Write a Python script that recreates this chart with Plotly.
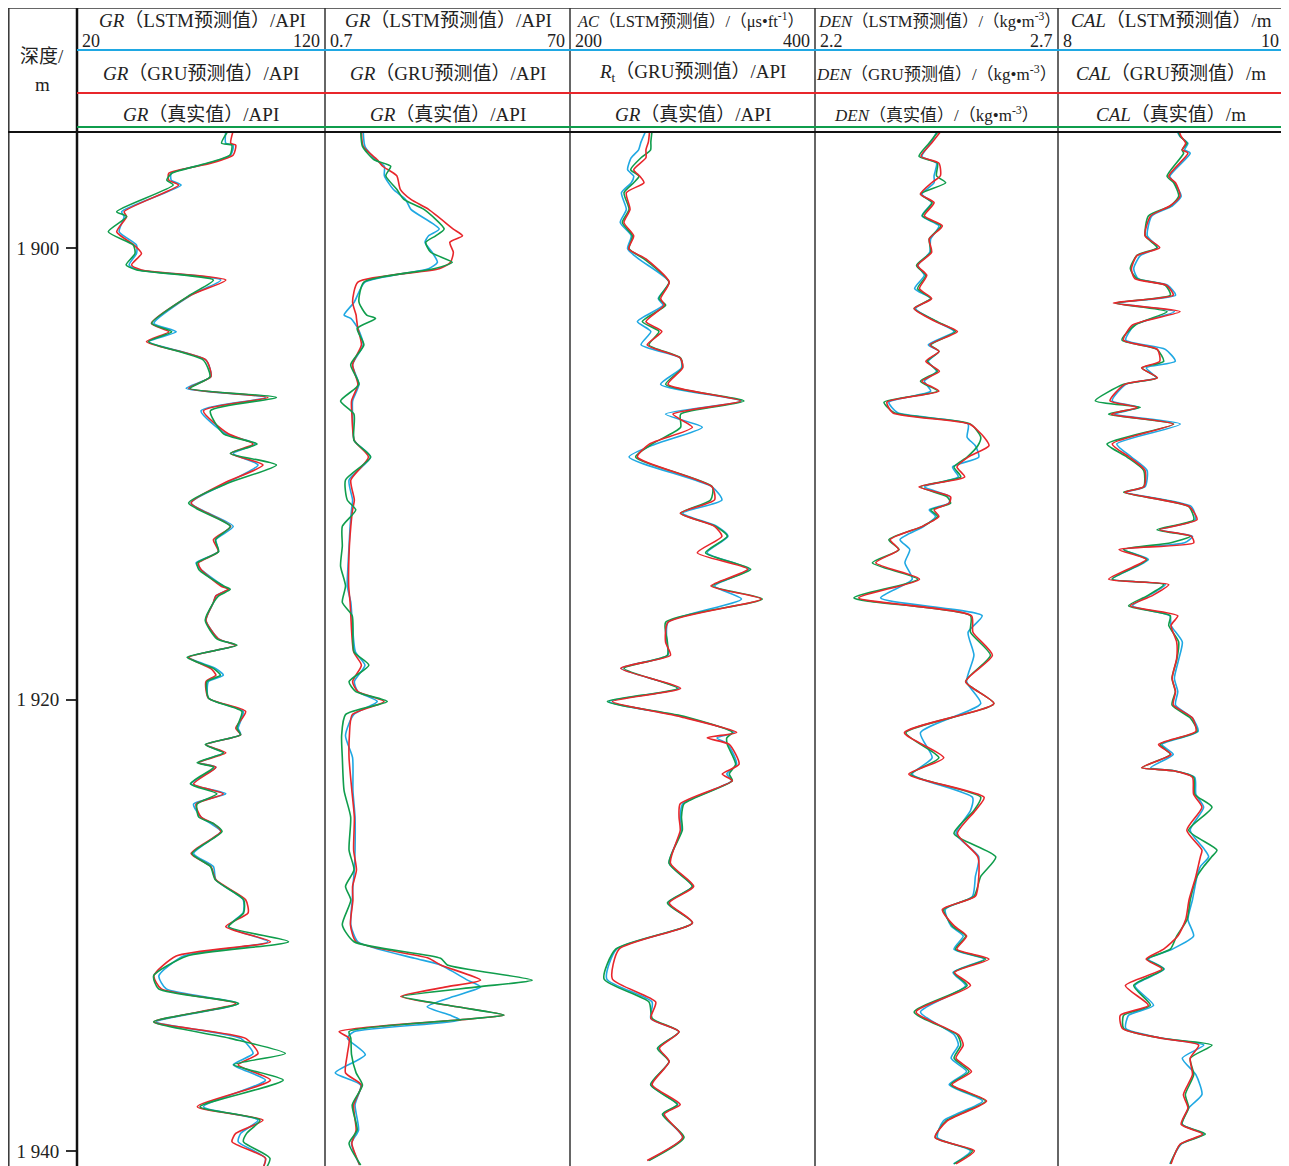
import plotly.graph_objects as go

# page is drawn with an 8px body margin: figure covers page pixels 8..1289 / 8..1166
OFF = 8
W, H = 1289 - OFF, 1166 - OFF
BLUE, RED, GREEN = '#1fa8e3', '#e8262b', '#0f9d4c'
FONT = 'Liberation Serif, Noto Sans CJK SC, serif'

# ---------------- Track 1 : GR (API) ----------------
t1_depth = [1894.8, 1895.36, 1895.44, 1895.88, 1896.25, 1896.69, 1896.99, 1897.21, 1898.39, 1898.61,
            1899.28, 1899.87, 1900.24, 1900.75, 1900.97, 1901.42, 1902.08, 1903.34, 1903.71, 1904.15,
            1904.96, 1905.7, 1906.22, 1906.62, 1907.21, 1908.23, 1908.68, 1909.1, 1909.61, 1910.43,
            1911.3, 1912.33, 1912.92, 1913.45, 1913.95, 1914.24, 1914.97, 1915.12, 1915.41, 1915.7,
            1916.49, 1917.31, 1917.6, 1918.13, 1918.63, 1918.92, 1919.21, 1919.94, 1920.53, 1921.27,
            1921.56, 1922.0, 1922.36, 1922.8, 1923.0, 1923.74, 1924.18, 1924.63, 1925.21, 1925.5,
            1925.85, 1926.82, 1927.4, 1927.99, 1928.87, 1929.45, 1930.06, 1930.73, 1931.36, 1932.24,
            1932.82, 1933.47, 1934.28, 1935.01, 1935.68, 1936.18, 1936.86, 1938.04, 1938.63, 1939.22,
            1939.59, 1940.32, 1941.0]
t1_true = [81, 78.3, 82.4, 81.7, 72.3, 58.2, 56.2, 58.8, 36.0, 40.0,
           32.6, 42.7, 43.4, 39.8, 44.1, 75.0, 65.6, 50.1, 58.2, 48.8,
           70.9, 73.6, 65.6, 100.4, 73.8, 79.1, 92.6, 81.8, 100.4, 80.5,
           65.0, 81.8, 75.8, 77.1, 68.4, 69.1, 79.1, 81.8, 77.1, 75.1,
           71.7, 76.4, 84.5, 64.4, 75.1, 77.8, 72.4, 73.1, 86.5, 84.5,
           85.9, 71.7, 79.1, 68.4, 75.1, 65.7, 76.4, 68.4, 69.1, 75.1,
           78.5, 66.4, 73.8, 75.8, 87.2, 87.2, 81.2, 105.3, 64.4, 50.9,
           52.9, 85.2, 50.9, 81.8, 104.0, 83.2, 103.2, 69.6, 93.8, 88.4,
           87.1, 97.8, 95]
t1_gru = [83, 82, 84, 83, 74, 57, 57, 61, 39, 40,
          36, 43, 46, 42, 46, 80, 66, 50, 57, 48,
          72, 74, 65, 97, 71, 81, 91, 82, 95, 79,
          66, 82, 75, 77, 69, 70, 78, 81, 76, 75,
          72, 77, 84, 65, 74, 76, 72, 73, 88, 84,
          86, 72, 80, 69, 76, 67, 79, 68, 70, 75,
          78, 66, 74, 76, 88, 89, 80, 98, 60, 51,
          54, 84, 51, 88, 93, 85, 98, 68.5, 95, 84,
          82.5, 96, 94]
t1_lstm = [80, 80, 83, 82, 73, 58, 58, 62, 38, 39,
           37, 44, 44, 41, 45, 78, 66, 51, 60, 49,
           72, 74, 64, 96, 70, 80, 92, 83, 93, 80,
           66, 83, 76, 77, 68, 70, 79, 81, 76, 75,
           72, 77, 84, 65, 76, 79, 73, 73, 87, 85,
           86, 72, 79, 69, 76, 66, 80, 67, 70, 74,
           78, 67, 75, 76, 87, 87, 81, 97, 63, 53,
           56, 85, 52, 86, 91, 83, 96, 71, 93, 86,
           85, 96, 94]

# ---------------- Track 2 : GR (API) ----------------
t2_depth = [1894.8, 1895.5, 1896.09, 1896.38, 1896.8, 1897.4, 1897.85, 1898.29, 1899.16, 1899.46,
            1899.75, 1900.19, 1900.63, 1900.92, 1901.51, 1902.39, 1902.97, 1903.12, 1903.56, 1904.29,
            1905.17, 1906.04, 1906.78, 1907.36, 1908.53, 1909.26, 1910.28, 1911.16, 1911.6, 1912.33,
            1913.2, 1914.09, 1914.97, 1915.7, 1916.29, 1917.89, 1918.48, 1919.21, 1919.65, 1920.09,
            1920.67, 1921.6, 1922.58, 1924.04, 1925.21, 1926.67, 1927.55, 1928.28, 1928.88, 1929.98,
            1930.73, 1931.46, 1931.76, 1932.43, 1932.73, 1933.16, 1933.61, 1933.98, 1934.2, 1934.71,
            1935.0, 1935.73, 1936.54, 1937.08, 1937.96, 1939.07, 1939.66, 1940.62]
t2_true = [10.8, 11.3, 14.6, 19.3, 17.9, 21, 23.0, 28.7, 34.4, 32,
           29.2, 30.6, 36.7, 31.5, 11.7, 10.3, 12.5, 15.0, 9.8, 11.7,
           7.96, 10.3, 5.1, 8.9, 8.9, 13.6, 6.5, 7.0, 9.4, 5.6,
           5.6, 5.1, 6.5, 5.6, 8.4, 8.9, 13.1, 7.5, 9.4, 18.3,
           6.5, 5.4, 5.6, 6.1, 7.96, 7.5, 8.9, 6.5, 8.0, 5.6,
           8.9, 33.4, 35.3, 59.3, 44, 22.6, 38, 51.3, 38, 7.5,
           8.0, 8.2, 9.5, 11.3, 8.4, 9.8, 7.5, 10.8]
t2_gru = [11.0, 11.5, 15.5, 17, 21, 22, 25, 30, 37, 39.6,
          36, 37, 36.2, 33, 10, 8.5, 9.5, 9.6, 10, 11,
          8.5, 10, 8.2, 8.3, 9, 13, 8, 9, 8.5, 8,
          7.6, 7.4, 7.4, 7.8, 8.0, 8.8, 11, 8.5, 10, 17.4,
          8.4, 7.6, 7.5, 8.3, 9, 8.8, 9.6, 8.5, 8.6, 7.9,
          9.5, 30, 33.4, 44.7, 35, 22.1, 38, 51.3, 38, 4.7,
          7.5, 7, 6.5, 11, 8.8, 9.5, 8.3, 10.5]
t2_lstm = [11.5, 12, 15, 17.5, 17.5, 20, 23.5, 25, 33, 30,
           29, 31, 32.5, 30, 12, 9, 6.1, 8, 10, 11.5,
           8.5, 10.3, 8.5, 8.5, 9, 13.6, 7.5, 8.5, 8.2, 7.8,
           7.5, 7.2, 7.0, 8.0, 8.3, 9.3, 12, 9, 10, 15.5,
           8.8, 6.5, 8.5, 8.6, 9.2, 9.2, 9, 8.6, 8.4, 8.0,
           10, 26, 33.4, 41, 44.7, 37, 29.6, 36, 39, 9,
           7.0, 12.1, 3.6, 10.8, 9.2, 10.2, 8.2, 10.5]

# ---------------- Track 3 : AC (us/ft) ----------------
t3_depth = [1894.8, 1895.3, 1895.65, 1896.0, 1896.53, 1896.82, 1897.11, 1897.55, 1898.29, 1898.87,
            1899.46, 1900.04, 1900.48, 1901.51, 1902.24, 1902.53, 1903.26, 1903.7, 1904.29, 1904.87,
            1905.31, 1906.04, 1906.78, 1907.36, 1907.94, 1908.68, 1909.26, 1910.58, 1911.16, 1911.75,
            1912.33, 1912.77, 1913.5, 1914.23, 1914.97, 1915.55, 1916.58, 1917.45, 1918.04, 1918.62,
            1919.5, 1920.09, 1920.76, 1921.46, 1921.7, 1921.99, 1922.87, 1923.3, 1923.6, 1924.62,
            1925.2, 1925.79, 1927.25, 1928.28, 1929.01, 1929.89, 1931.06, 1932.38, 1933.4, 1934.13,
            1934.72, 1935.45, 1936.04, 1937.06, 1937.94, 1938.37, 1939.4, 1940.42]
t3_true = [267, 266, 265.8, 258, 249.5, 256.3, 252, 244.1, 248.2, 242.7,
           250.9, 248.2, 260.4, 280.8, 272.6, 278.1, 259.0, 272.6, 264.5, 290.3,
           291.7, 278.1, 342.0, 290.3, 290.3, 267.2, 253.6, 316.2, 314.8, 290.3,
           318.9, 328.4, 310.7, 347.5, 316.2, 357.0, 278.1, 279.5, 279.5, 244.1,
           287.6, 230.5, 294.4, 332.5, 328, 328.4, 335.2, 330, 332.5, 293.1,
           291, 291.7, 280.8, 299.9, 279.5, 299.9, 237.3, 227.8, 264.5, 267.2,
           289.0, 271.3, 280.8, 265.8, 287.6, 275.4, 293.1, 264.5]
t3_gru = [265, 264, 262, 262, 252, 257, 260.4, 246, 249, 244,
          252, 248, 262, 281, 274, 277, 262, 275, 263, 290,
          292, 280, 339.3, 284, 299.9, 265, 255, 316, 318, 290,
          318, 324, 303.9, 345, 315, 356, 280, 278, 282, 241.4,
          290.3, 234.6, 290, 336, 312, 330, 338, 324.3, 332.5, 290,
          289, 290, 282, 301, 281, 300, 240, 234.6, 270, 266,
          289, 273, 281, 267, 290, 277, 292, 263]
t3_lstm = [262, 258, 256, 250, 247, 252, 250, 242, 246, 241,
           250, 247, 256, 281, 272, 276, 255, 266, 258, 290,
           291, 274, 340, 278, 308, 270, 248.2, 316, 324, 292,
           320, 329, 312, 346, 318, 340, 280, 279, 280, 242,
           289, 232, 292, 334, 320, 329, 336, 328, 332, 292,
           290, 291, 281, 300, 280, 300, 238, 230, 267, 266,
           289, 272, 281, 266, 288, 276, 292, 264]

# ---------------- Track 4 : DEN (kg/m3) ----------------
t4_depth = [1894.8, 1895.35, 1895.94, 1896.24, 1896.8, 1897.11, 1897.61, 1897.99, 1898.58, 1899.02,
            1899.6, 1900.19, 1900.77, 1901.21, 1901.8, 1902.24, 1902.68, 1903.26, 1903.7, 1904.29,
            1904.58, 1905.02, 1905.46, 1905.9, 1906.34, 1906.83, 1907.3, 1907.8, 1908.38, 1908.76,
            1909.26, 1909.7, 1910.14, 1910.58, 1911.02, 1911.31, 1911.6, 1911.89, 1912.33, 1912.92,
            1913.36, 1913.94, 1914.67, 1915.5, 1916.29, 1917.02, 1918.04, 1919.21, 1920.18, 1921.47,
            1922.58, 1923.31, 1924.33, 1924.92, 1925.94, 1926.97, 1927.84, 1928.72, 1929.3, 1930.04,
            1930.48, 1931.06, 1931.5, 1932.09, 1932.67, 1933.84, 1934.86, 1935.31, 1935.89, 1936.48,
            1937.06, 1937.79, 1938.67, 1939.4, 1939.99, 1940.57]
t4_true = [2.455, 2.435, 2.414, 2.452, 2.450, 2.469, 2.417, 2.441, 2.421, 2.459,
           2.435, 2.438, 2.409, 2.428, 2.411, 2.438, 2.404, 2.452, 2.489, 2.438,
           2.455, 2.431, 2.452, 2.417, 2.452, 2.342, 2.363, 2.520, 2.541, 2.535,
           2.513, 2.486, 2.500, 2.417, 2.472, 2.479, 2.438, 2.452, 2.421, 2.352,
           2.373, 2.318, 2.411, 2.280, 2.520, 2.520, 2.561, 2.510, 2.568, 2.387,
           2.455, 2.397, 2.541, 2.527, 2.486, 2.572, 2.541, 2.527, 2.465, 2.483,
           2.510, 2.489, 2.551, 2.486, 2.513, 2.404, 2.493, 2.500, 2.486, 2.517,
           2.479, 2.551, 2.469, 2.448, 2.524, 2.486]
t4_gru = [2.460, 2.440, 2.418, 2.455, 2.458, 2.440, 2.417, 2.445, 2.425, 2.462,
          2.435, 2.440, 2.411, 2.430, 2.415, 2.440, 2.404, 2.448, 2.493, 2.436,
          2.455, 2.428, 2.456, 2.420, 2.455, 2.348, 2.360, 2.518, 2.548, 2.558,
          2.515, 2.492, 2.508, 2.414, 2.479, 2.476, 2.445, 2.455, 2.421, 2.355,
          2.372, 2.325, 2.415, 2.290, 2.522, 2.525, 2.565, 2.510, 2.568, 2.384,
          2.465, 2.393, 2.548, 2.530, 2.493, 2.535, 2.537, 2.530, 2.462, 2.487,
          2.512, 2.492, 2.558, 2.487, 2.520, 2.408, 2.496, 2.505, 2.490, 2.522,
          2.482, 2.553, 2.472, 2.447, 2.528, 2.490]
t4_lstm = [2.452, 2.438, 2.420, 2.450, 2.445, 2.445, 2.420, 2.440, 2.420, 2.455,
           2.438, 2.436, 2.412, 2.425, 2.405, 2.438, 2.407, 2.450, 2.486, 2.433,
           2.455, 2.433, 2.450, 2.425, 2.438, 2.352, 2.370, 2.515, 2.513, 2.530,
           2.537, 2.483, 2.495, 2.425, 2.478, 2.475, 2.435, 2.448, 2.424, 2.375,
           2.395, 2.385, 2.400, 2.335, 2.544, 2.515, 2.527, 2.512, 2.541, 2.417,
           2.441, 2.400, 2.524, 2.520, 2.490, 2.537, 2.530, 2.524, 2.468, 2.480,
           2.505, 2.486, 2.548, 2.484, 2.510, 2.417, 2.487, 2.495, 2.480, 2.512,
           2.476, 2.545, 2.464, 2.452, 2.520, 2.485]

# ---------------- Track 5 : CAL (m) ----------------
t5_depth = [1894.8, 1895.06, 1895.36, 1895.65, 1895.8, 1896.82, 1897.11, 1897.7, 1898.14, 1898.58,
            1899.46, 1899.98, 1900.33, 1900.92, 1901.36, 1901.65, 1902.09, 1902.44, 1902.82, 1903.41,
            1904.08, 1904.49, 1905.02, 1905.31, 1905.75, 1906.04, 1906.77, 1907.06, 1907.36, 1907.8,
            1908.68, 1909.26, 1909.85, 1910.58, 1910.82, 1911.45, 1912.04, 1912.48, 1912.77, 1913.06,
            1913.36, 1913.8, 1914.67, 1914.91, 1915.41, 1915.85, 1916.29, 1916.72, 1917.45, 1918.19,
            1919.06, 1919.65, 1920.24, 1920.82, 1921.41, 1921.99, 1922.43, 1923.02, 1923.16, 1923.45,
            1924.2, 1924.77, 1925.79, 1926.67, 1926.97, 1927.4, 1927.84, 1928.87, 1929.75, 1930.48,
            1931.06, 1931.5, 1931.94, 1932.67, 1933.55, 1933.99, 1934.57, 1935.02, 1935.31, 1935.89,
            1936.62, 1937.5, 1938.08, 1938.82, 1939.25, 1939.7, 1940.57]
t5_true = [9.06, 9.083, 9.142, 9.097, 9.112, 8.965, 9.024, 9.068, 8.994, 8.80,
           8.773, 8.876, 8.699, 8.640, 8.699, 8.950, 8.994, 8.507, 8.965, 8.684,
           8.566, 8.876, 8.935, 8.743, 8.876, 8.581, 8.330, 8.729, 8.448, 9.024,
           8.434, 8.611, 8.758, 8.758, 8.581, 9.156, 9.201, 8.876, 9.171, 9.0,
           8.581, 8.788, 8.478, 8.935, 8.788, 8.625, 8.994, 8.980, 9.068, 9.053,
           9.009, 9.038, 9.009, 9.171, 9.230, 8.905, 8.994, 8.743, 9.024, 9.201,
           9.21, 9.363, 9.156, 9.407, 9.36, 9.289, 9.230, 9.171, 9.142, 9.05,
           8.994, 8.788, 8.935, 8.670, 8.817, 8.581, 8.581, 8.935, 9.363, 9.171,
           9.201, 9.127, 9.156, 9.097, 9.304, 9.083, 8.994]
t5_gru = [9.07, 9.09, 9.13, 9.10, 9.15, 8.98, 9.04, 9.08, 8.99, 8.82,
          8.77, 8.90, 8.70, 8.65, 8.68, 8.96, 9.02, 8.49, 9.08, 8.66,
          8.58, 8.88, 8.90, 8.74, 8.88, 8.59, 8.46, 8.70, 8.47, 9.02,
          8.48, 8.63, 8.77, 8.76, 8.59, 9.16, 9.23, 8.90, 9.18, 9.201,
          8.54, 8.78, 8.448, 8.98, 8.83, 8.64, 9.06, 9.00, 9.05, 9.05,
          9.01, 9.04, 9.02, 9.19, 9.22, 8.89, 9.00, 8.74, 9.02, 9.19,
          9.20, 9.274, 9.14, 9.274, 9.26, 9.24, 9.22, 9.16, 9.13, 9.06,
          8.935, 8.78, 8.92, 8.596, 8.80, 8.551, 8.57, 8.93, 9.245, 9.17,
          9.19, 9.11, 9.15, 9.09, 9.28, 9.08, 9.00]
t5_lstm = [9.05, 9.08, 9.15, 9.12, 9.17, 8.99, 9.03, 9.09, 9.01, 8.83,
           8.79, 8.88, 8.73, 8.67, 8.71, 8.97, 9.04, 8.52, 9.03, 8.68,
           8.60, 8.95, 9.038, 8.78, 8.87, 8.60, 8.48, 8.72, 8.50, 9.083,
           8.52, 8.65, 8.788, 8.77, 8.60, 9.18, 9.215, 8.90, 9.19, 9.12,
           8.58, 8.80, 8.48, 8.95, 8.80, 8.66, 8.99, 9.00, 9.10, 9.07,
           9.03, 9.06, 9.04, 9.19, 9.24, 8.92, 9.02, 8.82, 9.03, 9.21,
           9.22, 9.289, 9.17, 9.30, 9.333, 9.26, 9.23, 9.19, 9.15, 9.20,
           9.01, 8.80, 8.94, 8.68, 8.846, 8.625, 8.60, 8.94, 9.29, 9.10,
           9.22, 9.274, 9.16, 9.10, 9.29, 9.09, 8.99]

# ---------------- header texts ----------------
depth_ticks = [1900, 1920, 1940]
depth_tick_text = ['1 900', '1 920', '1 940']
row1_labels = ['<i>GR</i>（LSTM预测值）/API', '<i>GR</i>（LSTM预测值）/API',
               '<i>AC</i>（LSTM预测值）/（μs•ft<sup>-1</sup>）',
               '<i>DEN</i>（LSTM预测值）/（kg•m<sup>-3</sup>）', '<i>CAL</i>（LSTM预测值）/m']
row2_labels = ['<i>GR</i>（GRU预测值）/API', '<i>GR</i>（GRU预测值）/API',
               '<i>R</i><sub>t</sub>（GRU预测值）/API',
               '<i>DEN</i>（GRU预测值）/（kg•m<sup>-3</sup>）', '<i>CAL</i>（GRU预测值）/m']
row3_labels = ['<i>GR</i>（真实值）/API', '<i>GR</i>（真实值）/API', '<i>GR</i>（真实值）/API',
               '<i>DEN</i>（真实值）/（kg•m<sup>-3</sup>）', '<i>CAL</i>（真实值）/m']
row1_sizes = [19, 19, 16.5, 16.5, 19]
row1_shift = [1, 1, -2, 3, 0]
row2_sizes = [19, 19, 19, 17, 19]
row3_sizes = [19, 19, 19, 17, 19]
scale_left = ['20', '0.7', '200', '2.2', '8']
scale_right = ['120', '70', '400', '2.7', '10']
x_ranges = [[20, 120], [0.7, 70], [200, 400], [2.2, 2.7], [8, 10]]

tracks = [
    (t1_depth, t1_lstm, t1_gru, t1_true, 'green_top'),
    (t2_depth, t2_lstm, t2_gru, t2_true, 'green_top'),
    (t3_depth, t3_lstm, t3_gru, t3_true, 'red_top'),
    (t4_depth, t4_lstm, t4_gru, t4_true, 'red_top'),
    (t5_depth, t5_lstm, t5_gru, t5_true, 'red_top'),
]

# layout geometry (page pixels)
edges = [77, 325, 570, 815, 1058, 1284]
LEFT, TOP, PLOT_TOP, PAGE_H = 8, 8, 133, 1166
def fx(px): return (px - OFF) / W
def fy(py): return 1 - (py - OFF) / H

fig = go.Figure()
for i, (dep, lstm, gru, true, order) in enumerate(tracks):
    xa = 'x' if i == 0 else f'x{i+1}'
    series = [(lstm, BLUE, 'LSTM'), (gru, RED, 'GRU'), (true, GREEN, '真实值')]
    if order == 'red_top':
        series = [series[0], series[2], series[1]]
    for vals, col, nm in series:
        fig.add_trace(go.Scatter(x=vals, y=dep, mode='lines', name=nm, xaxis=xa, yaxis='y',
                                 line=dict(color=col, width=1.6, shape='spline', smoothing=0.6),
                                 showlegend=False, hoverinfo='skip'))

layout = dict(width=W, height=H, margin=dict(l=0, r=0, t=0, b=0),
              paper_bgcolor='white', plot_bgcolor='white',
              font=dict(family=FONT, color='#222', size=18))
d_top = 1900 + (PLOT_TOP - 248) / 22.575
d_bot = 1900 + (PAGE_H - 248) / 22.575
layout['yaxis'] = dict(domain=[0, fy(PLOT_TOP)], range=[d_bot, d_top], anchor='x',
                       tickvals=depth_ticks, ticktext=depth_tick_text, ticks='outside',
                       ticklen=10, tickwidth=2, tickcolor='#333', showgrid=False, zeroline=False,
                       showline=False, tickfont=dict(size=19, family=FONT, color='#222'),
                       ticklabelstandoff=3)
for i in range(5):
    key = 'xaxis' if i == 0 else f'xaxis{i+1}'
    layout[key] = dict(domain=[fx(edges[i]), fx(edges[i + 1])], range=x_ranges[i], anchor='y',
                       showgrid=False, zeroline=False, showticklabels=False, ticks='',
                       showline=False)
fig.update_layout(**layout)

shapes = []
def line(x0, y0, x1, y1, color='#333', width=1.5):
    shapes.append(dict(type='line', xref='paper', yref='paper', x0=fx(x0), y0=fy(y0),
                       x1=fx(x1), y1=fy(y1), line=dict(color=color, width=width)))
line(LEFT, TOP, edges[-1], TOP)
line(LEFT + 0.8, TOP, LEFT + 0.8, PAGE_H)
line(edges[0], TOP, edges[0], PAGE_H, '#111', 2.5)
for e in edges[1:]:
    line(e, TOP, e, PAGE_H)
line(edges[0], 50, edges[-1], 50, BLUE, 2)
line(edges[0], 93, edges[-1], 93, RED, 2)
line(edges[0], 127, edges[-1], 127, GREEN, 2.2)
line(LEFT, 132, edges[-1], 132, '#111', 2)
fig.update_layout(shapes=shapes)

anns = []
def ann(text, x, y, xanchor='center', size=18):
    anns.append(dict(text=text, x=fx(x), y=fy(y), xref='paper', yref='paper', showarrow=False,
                     xanchor=xanchor, yanchor='middle', font=dict(size=size, family=FONT, color='#222')))
ann('深度/', 42, 57, size=19)
ann('m', 42, 84, size=19)
for i in range(5):
    cx = (edges[i] + edges[i + 1]) / 2
    ann(row1_labels[i], cx + row1_shift[i], 20, size=row1_sizes[i])
    ann(scale_left[i], edges[i] + 3, 41, 'left', 18)
    ann(scale_right[i], edges[i + 1] - 3, 41, 'right', 18)
    ann(row2_labels[i], cx, 73, size=row2_sizes[i])
    ann(row3_labels[i], cx, 114, size=row3_sizes[i])
fig.update_layout(annotations=anns)

fig.write_html('out.html')
